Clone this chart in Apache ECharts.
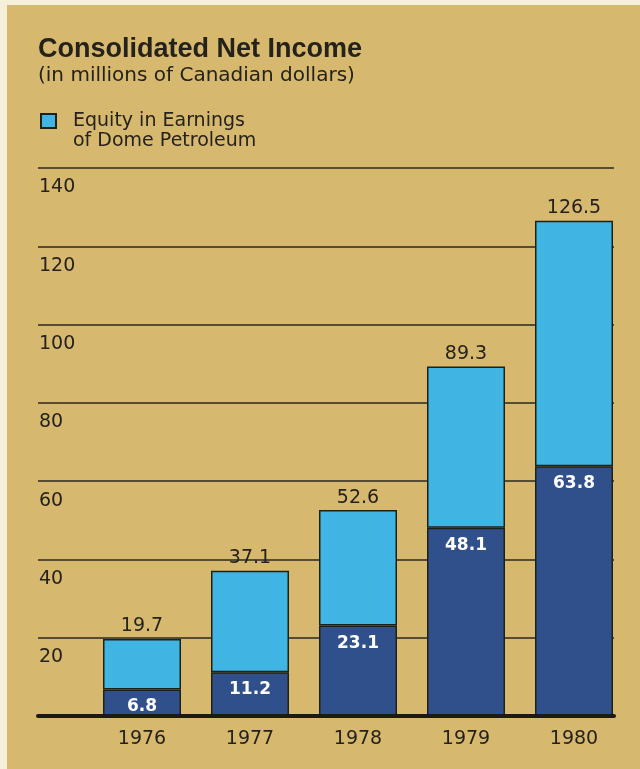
<!DOCTYPE html>
<html>
<head>
<meta charset="utf-8">
<script src="https://cdn.jsdelivr.net/npm/echarts@6/dist/echarts.min.js"></script>
<style>
  html, body { margin: 0; padding: 0; background: #F4F0DA; }
  #bg { position: absolute; left: 7px; top: 5px; width: 633px; height: 764px; background: #D7B86F; }
  #chart { position: absolute; left: 0; top: 0; width: 640px; height: 769px; }
</style>
</head>
<body>
<div id="bg"></div>
<div id="chart"></div>
<script>
// Data
const years = ['1976', '1977', '1978', '1979', '1980'];
const otherIncome = [6.8, 11.2, 23.1, 48.1, 63.8];          // dark segment
const domeEquity = [12.9, 25.9, 29.5, 41.2, 62.7];          // cyan segment
const totalIncome = [19.7, 37.1, 52.6, 89.3, 126.5];        // label above bar
const yTicks = { min: 0, max: 140, interval: 20 };

const FONT = 'DejaVu Sans';
const INK = '#24221a';

const chart = echarts.init(document.getElementById('chart'), null, { renderer: 'canvas' });
chart.setOption({
  backgroundColor: 'transparent',
  animation: false,
  title: [
    { text: 'Consolidated Net Income', left: 38, top: 36, padding: 0,
      textStyle: { fontFamily: 'Liberation Sans', fontWeight: 'bold', fontSize: 27, color: INK } },
    { text: '(in millions of Canadian dollars)', left: 38, top: 66, padding: 0,
      textStyle: { fontFamily: FONT, fontWeight: 'normal', fontSize: 20, color: INK } }
  ],
  legend: {
    data: ['Equity in Earnings\nof Dome Petroleum'],
    left: 40, top: 91, padding: 0,
    icon: 'rect', itemWidth: 15, itemHeight: 14,
    selectedMode: false,
    formatter: n => ' \n' + n,
    textStyle: { fontFamily: FONT, fontSize: 19, color: INK, lineHeight: 20, padding: [0, 0, 0, 12] }
  },
  grid: [
    { left: 38, right: 26, top: 168, bottom: 53 },
    { left: 88, right: 12, top: 168, bottom: 53 }
  ],
  xAxis: [
    { type: 'value', gridIndex: 0, min: 0, max: 1, z: 5,
      axisLine: { show: true, lineStyle: { color: '#1c1a12', width: 4 } },
      axisTick: { show: false }, axisLabel: { show: false }, splitLine: { show: false } },
    { type: 'category', gridIndex: 1, data: years,
      axisLine: { show: false }, axisTick: { show: false },
      axisLabel: { fontFamily: FONT, fontSize: 19, color: INK, margin: 14 } }
  ],
  yAxis: [
    { type: 'value', gridIndex: 0, min: yTicks.min, max: yTicks.max, interval: yTicks.interval,
      axisLine: { show: false }, axisTick: { show: false },
      axisLabel: { inside: true, margin: 1, showMinLabel: false, verticalAlign: 'top', padding: [10, 0, 0, 0],
        fontFamily: FONT, fontSize: 19, color: INK },
      splitLine: { show: true, lineStyle: { color: '#2a281c', width: 1.5 } } },
    { type: 'value', gridIndex: 1, min: yTicks.min, max: yTicks.max, interval: yTicks.interval, show: false,
      splitLine: { show: false } }
  ],
  series: [
    { name: 'Net income excluding Dome', type: 'bar', xAxisIndex: 1, yAxisIndex: 1, stack: 'income',
      data: otherIncome, barWidth: 78,
      itemStyle: { color: '#2F508A', borderColor: '#1d2218', borderWidth: 1.5 },
      label: { show: true, position: 'insideTop', distance: 9, color: '#ffffff',
        fontFamily: FONT, fontWeight: 'bold', fontSize: 17 } },
    { name: 'Equity in Earnings\nof Dome Petroleum', type: 'bar', xAxisIndex: 1, yAxisIndex: 1, stack: 'income',
      data: domeEquity, barWidth: 78,
      itemStyle: { color: '#40B4E2', borderColor: '#1d2218', borderWidth: 1.5 },
      label: { show: true, position: 'top', distance: 3, color: INK,
        fontFamily: FONT, fontSize: 19,
        formatter: p => totalIncome[p.dataIndex].toFixed(1) } }
  ]
});
</script>
</body>
</html>
